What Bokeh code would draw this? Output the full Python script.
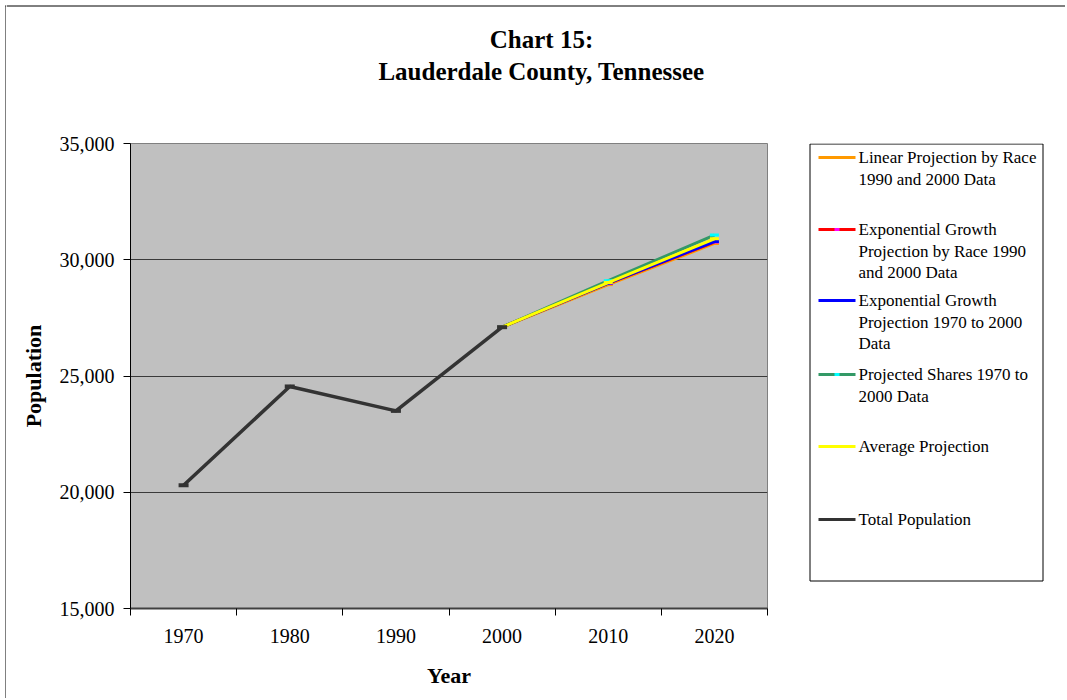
from bokeh.plotting import figure
from bokeh.layouts import row, column
from bokeh.models import Range1d, FixedTicker, NumeralTickFormatter
from bokeh.core.properties import value
from bokeh.embed import file_html
from bokeh.resources import INLINE

# ---- data ----
hist_years = [1970, 1980, 1990, 2000]
total_population = [20300, 24550, 23500, 27100]

proj_years = [2000, 2010, 2020]
linear_race = [27100, 28930, 30700]
exp_race = [27100, 28990, 30760]
exp_1970_2000 = [27100, 29000, 30780]
shares_1970_2000 = [27100, 29100, 31060]
average_proj = [27100, 29020, 30900]

tick_years = [1970, 1980, 1990, 2000, 2010, 2020]
boundary_years = [1965, 1975, 1985, 1995, 2005, 2015, 2025]
y_ticks = [15000, 20000, 25000, 30000, 35000]

title_lines = ["Chart 15:", "Lauderdale County, Tennessee"]
series_names = [
    ["Linear Projection by Race", "1990 and 2000 Data"],
    ["Exponential Growth", "Projection by Race 1990", "and 2000 Data"],
    ["Exponential Growth", "Projection 1970 to 2000", "Data"],
    ["Projected Shares 1970 to", "2000 Data"],
    ["Average Projection"],
    ["Total Population"],
]
line_colors = ["#FF9900", "#FF0000", "#0000FF", "#339966", "#FFFF00", "#333333"]
marker_colors = ["#FF9900", "#FF00FF", "#0000FF", "#00FFFF", "#FFFF00", "#333333"]

FONT = "Liberation Serif"
W_TOTAL, H_TOTAL = 1065, 698
STRIP_W = 6
TITLE_H = 110
MAIN_W = 794
LEG_W = W_TOTAL - STRIP_W - MAIN_W
BODY_H = H_TOTAL - TITLE_H
BORDER_TOP = 33
FRAME_H = 465
BORDER_BOTTOM = BODY_H - BORDER_TOP - FRAME_H
FRAME_TOP_PX = TITLE_H + BORDER_TOP
FRAME_BOTTOM_PX = FRAME_TOP_PX + FRAME_H


def pixel_fig(w, h, x0, y_top, y_bottom, mb_top=0, mb_bottom=0):
    """A figure whose frame uses page-pixel coordinates."""
    f = figure(width=w, height=h, output_backend="svg", toolbar_location=None,
               x_range=Range1d(x0, x0 + w), y_range=Range1d(y_bottom, y_top),
               x_axis_type=None, y_axis_type=None, min_border=0,
               min_border_top=mb_top, min_border_bottom=mb_bottom)
    f.outline_line_color = None
    f.background_fill_color = "white"
    f.border_fill_color = "white"
    f.xgrid.visible = False
    f.ygrid.visible = False
    return f


# ---- left strip: outer chart border ----
strip = pixel_fig(STRIP_W, H_TOTAL, 0, 0, H_TOTAL)
strip.line([5.5, 5.5], [5, H_TOTAL], line_color="black", line_width=1)
strip.line([5, STRIP_W], [5.5, 5.5], line_color="black", line_width=1)

# ---- title ----
tfig = pixel_fig(W_TOTAL - STRIP_W, TITLE_H, STRIP_W, 0, TITLE_H)
tfig.line([STRIP_W, W_TOTAL], [5.5, 5.5], line_color="black", line_width=1)
tfig.text(x=[541, 541], y=[39, 71], text=title_lines,
          text_font=value(FONT), text_font_style="bold", text_font_size="25px",
          text_align="center", text_baseline="middle", text_color="black")

# ---- main chart ----
p = figure(width=MAIN_W, height=BODY_H, output_backend="svg", toolbar_location=None,
           x_range=Range1d(1965, 2025), y_range=Range1d(15000, 35000),
           min_border_left=124, min_border_right=33, min_border_top=BORDER_TOP,
           min_border_bottom=BORDER_BOTTOM)
p.background_fill_color = "#C0C0C0"
p.border_fill_color = "white"
p.outline_line_color = "#808080"

p.xaxis.ticker = FixedTicker(ticks=tick_years, minor_ticks=boundary_years)
p.xaxis.major_tick_out = 0
p.xaxis.major_tick_in = 0
p.xaxis.minor_tick_out = 7
p.xaxis.minor_tick_in = 0
p.xaxis.minor_tick_line_color = "black"
p.xaxis.axis_line_color = "#404040"
p.xaxis.axis_line_width = 2
p.xaxis.major_label_standoff = 13
p.xaxis.axis_label = "Year"
p.xaxis.axis_label_standoff = 17

p.yaxis.ticker = FixedTicker(ticks=y_ticks, minor_ticks=[])
p.yaxis.formatter = NumeralTickFormatter(format="0,0")
p.yaxis.major_tick_out = 7
p.yaxis.major_tick_in = 0
p.yaxis.major_tick_line_color = "black"
p.yaxis.axis_line_color = "black"
p.yaxis.major_label_standoff = 9
p.yaxis.axis_label = "Population"
p.yaxis.axis_label_standoff = 11

for ax in (p.xaxis, p.yaxis):
    ax.major_label_text_font = FONT
    ax.major_label_text_font_size = "20px"
    ax.major_label_text_color = "black"
    ax.axis_label_text_font = FONT
    ax.axis_label_text_font_size = "22px"
    ax.axis_label_text_font_style = "bold"
    ax.axis_label_text_color = "black"

p.xgrid.visible = False
p.ygrid.grid_line_color = "#3A3A3A"
p.ygrid.grid_line_width = 1

proj_series = [linear_race, exp_race, exp_1970_2000, shares_1970_2000, average_proj]
for i, vals in enumerate(proj_series):
    p.line(proj_years, vals, line_color=line_colors[i], line_width=3)
    p.scatter(proj_years, vals, marker="dash", size=9, line_width=3,
              line_color=marker_colors[i])
p.line(hist_years, total_population, line_color=line_colors[5], line_width=3.5)
p.scatter(hist_years, total_population, marker="dash", size=10, line_width=4,
          line_color="#333333")

# ---- legend (frame aligned with the main frame: page y 143..608) ----
X0 = STRIP_W + MAIN_W
leg = pixel_fig(LEG_W, BODY_H, X0, FRAME_TOP_PX, FRAME_BOTTOM_PX,
                mb_top=BORDER_TOP, mb_bottom=BORDER_BOTTOM)
leg.quad(left=[809.5], right=[1042.5], top=[143.5], bottom=[580.5],
         fill_color="white", line_color="black", line_width=1)
item_y = [157, 229, 300, 374, 446, 519]
for i, lines in enumerate(series_names):
    y = item_y[i]
    leg.line([818, 855], [y, y], line_color=line_colors[i], line_width=3)
    if marker_colors[i] != line_colors[i]:
        leg.line([834, 839], [y, y], line_color=marker_colors[i], line_width=3)
    leg.text(x=[858] * len(lines), y=[y + 21.5 * j for j in range(len(lines))],
             text=lines, text_font=value(FONT), text_font_size="17px",
             text_align="left", text_baseline="middle", text_color="black")

layout = row(strip, column(tfig, row(p, leg)))
open("out.html", "w").write(file_html(layout, INLINE))
